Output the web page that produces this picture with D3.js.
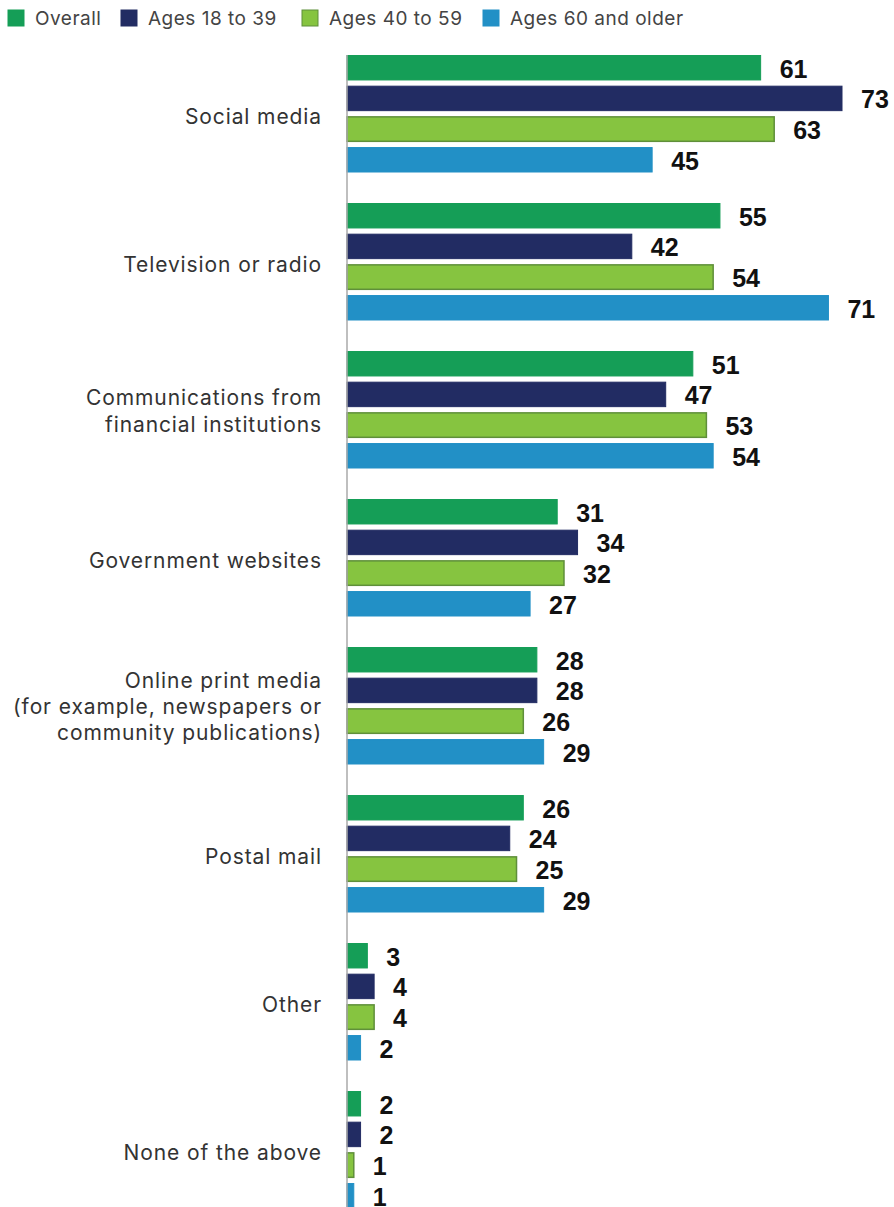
<!DOCTYPE html>
<html><head><meta charset="utf-8">
<script src="https://cdn.jsdelivr.net/npm/d3@7"></script>
<style>body{margin:0;background:#fff}svg{display:block}</style>
</head><body>
<script>
const categories = [
  ["Social media"],
  ["Television or radio"],
  ["Communications from","financial institutions"],
  ["Government websites"],
  ["Online print media","(for example, newspapers or","community publications)"],
  ["Postal mail"],
  ["Other"],
  ["None of the above"]
];
const seriesNames = ["Overall","Ages 18 to 39","Ages 40 to 59","Ages 60 and older"];
const overall = [61,55,51,31,28,26,3,2];
const ages18to39 = [73,42,47,34,28,24,4,2];
const ages40to59 = [63,54,53,32,26,25,4,1];
const ages60plus = [45,71,54,27,29,29,2,1];
const series = [overall, ages18to39, ages40to59, ages60plus];
const colors = ["#159e57","#222c63","#86c440","#2290c6"];
const strokes = ["#159e57","#222c63","#5f8f3a","#2290c6"];

const W = 894, H = 1207;
const svg = d3.select("body").append("svg").attr("width", W).attr("height", H);
const x0 = 347;
const x = d3.scaleLinear().domain([0,73]).range([x0, 842]);
const y = d3.scaleBand().domain(d3.range(categories.length)).range([55, 55+148*8]).paddingInner(0).paddingOuter(0);
const ySub = d3.scaleBand().domain(d3.range(4)).range([0, 117.5]).paddingInner(0.17).paddingOuter(0);

// legend
const legX = [8, 121, 302, 483];
const leg = svg.append("g").attr("font-family","Inter, sans-serif").attr("font-size",19)
  .attr("letter-spacing","0.5px").attr("fill","#444");
seriesNames.forEach((n,i)=>{
  leg.append("rect").attr("x",legX[i]).attr("y",10).attr("width",16).attr("height",16)
    .attr("fill",colors[i]).attr("stroke",strokes[i]).attr("stroke-width",1);
  leg.append("text").attr("x",legX[i]+27).attr("y",25).text(n);
});

// bars
categories.forEach((cat, ci)=>{
  const g = svg.append("g").attr("transform",`translate(0,${y(ci)})`);
  series.forEach((s, si)=>{
    const v = s[ci];
    g.append("rect").attr("x", x(0)).attr("y", ySub(si)+0.5)
      .attr("width", x(v)-x(0)).attr("height", ySub.bandwidth()-1)
      .attr("fill", colors[si]).attr("stroke", strokes[si]).attr("stroke-width", si===2?1.5:1);
    g.append("text").attr("x", x(v)+19).attr("y", ySub(si)+ySub.bandwidth()/2+1)
      .attr("dy","0.36em").attr("font-family","'Liberation Sans', Arial, sans-serif").attr("font-weight","bold")
      .attr("font-size",25).attr("fill","#111").text(v);
  });
  const lh = cat.length === 2 ? 27 : 26;
  const t = g.append("text").attr("text-anchor","end").attr("font-family","Inter, sans-serif")
    .attr("font-size",21).attr("letter-spacing","0.9px").attr("fill","#333");
  cat.forEach((line, li)=>{
    t.append("tspan").attr("x",322).attr("y", 60 + (cat.length===1?1.5:0) + (li-(cat.length-1)/2)*lh).attr("dy","0.35em").text(line);
  });
});

// axis line
svg.append("line").attr("x1",x0).attr("x2",x0).attr("y1",55).attr("y2",H)
  .attr("stroke","#aaa").attr("stroke-width",1.5);
</script>
</body></html>
